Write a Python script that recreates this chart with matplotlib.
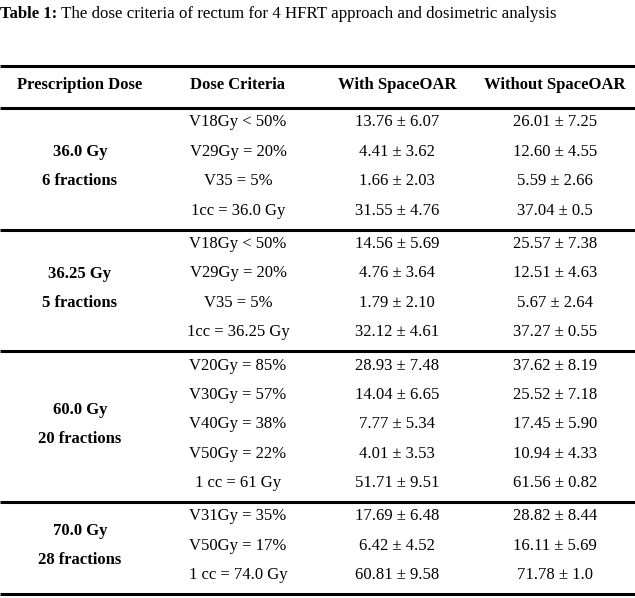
import matplotlib
matplotlib.use("Agg")
import matplotlib.pyplot as plt

# Table contents
headers = ["Prescription Dose", "Dose Criteria", "With SpaceOAR", "Without SpaceOAR"]
doses = ["36.0 Gy", "36.25 Gy", "60.0 Gy", "70.0 Gy"]
fractions = ["6 fractions", "5 fractions", "20 fractions", "28 fractions"]

criteria = [
    ["V18Gy < 50%", "V29Gy = 20%", "V35 = 5%", "1cc = 36.0 Gy"],
    ["V18Gy < 50%", "V29Gy = 20%", "V35 = 5%", "1cc = 36.25 Gy"],
    ["V20Gy = 85%", "V30Gy = 57%", "V40Gy = 38%", "V50Gy = 22%", "1 cc = 61 Gy"],
    ["V31Gy = 35%", "V50Gy = 17%", "1 cc = 74.0 Gy"],
]
with_mean = [
    ["13.76", "4.41", "1.66", "31.55"],
    ["14.56", "4.76", "1.79", "32.12"],
    ["28.93", "14.04", "7.77", "4.01", "51.71"],
    ["17.69", "6.42", "60.81"],
]
with_sd = [
    ["6.07", "3.62", "2.03", "4.76"],
    ["5.69", "3.64", "2.10", "4.61"],
    ["7.48", "6.65", "5.34", "3.53", "9.51"],
    ["6.48", "4.52", "9.58"],
]
without_mean = [
    ["26.01", "12.60", "5.59", "37.04"],
    ["25.57", "12.51", "5.67", "37.27"],
    ["37.62", "25.52", "17.45", "10.94", "61.56"],
    ["28.82", "16.11", "71.78"],
]
without_sd = [
    ["7.25", "4.55", "2.66", "0.5"],
    ["7.38", "4.63", "2.64", "0.55"],
    ["8.19", "7.18", "5.90", "4.33", "0.82"],
    ["8.44", "5.69", "1.0"],
]

W, H = 635, 598
fig = plt.figure(figsize=(W / 100, H / 100), dpi=100)
ax = fig.add_axes([0, 0, 1, 1])
ax.set_xlim(0, W)
ax.set_ylim(H, 0)
ax.axis("off")

font = "Liberation Serif"
fs = 12
col_x = [80, 238, 397, 555]
dy = 2  # nudge text down so glyphs sit like the reference

# title: bold label followed by normal text
t1 = ax.text(0, 12 + dy, "Table 1:", fontfamily=font, fontsize=12, fontweight="bold",
             va="center", ha="left")
ax.annotate("The dose criteria of rectum for 4 HFRT approach and dosimetric analysis",
            xy=(1, 0.5), xycoords=t1, xytext=(3, 0), textcoords="offset points",
            fontfamily=font, fontsize=12.2, va="center", ha="left")

lw = 2.2
ax.hlines(66, 0, W, color="black", lw=lw)
for x, h in zip(col_x, headers):
    ax.text(x, 83 + dy, h, fontfamily=font, fontsize=fs, fontweight="bold",
            ha="center", va="center")

row_h = 29.5
pad = 3.5
y = 108
ax.hlines(y, 0, W, color="black", lw=lw)
for g in range(len(doses)):
    n = len(criteria[g])
    first = y + 12.5 + dy
    for i in range(n):
        ry = first + i * (row_h - 0.1)
        ax.text(col_x[1], ry, criteria[g][i], fontfamily=font, fontsize=fs,
                ha="center", va="center")
        ax.text(col_x[2], ry, f"{with_mean[g][i]} \u00b1 {with_sd[g][i]}",
                fontfamily=font, fontsize=fs, ha="center", va="center")
        ax.text(col_x[3], ry, f"{without_mean[g][i]} \u00b1 {without_sd[g][i]}",
                fontfamily=font, fontsize=fs, ha="center", va="center")
    mid = first + (n - 1) * (row_h - 0.1) / 2
    ax.text(col_x[0], mid - 14.5, doses[g], fontfamily=font, fontsize=fs,
            fontweight="bold", ha="center", va="center")
    ax.text(col_x[0], mid + 14.5, fractions[g], fontfamily=font, fontsize=fs,
            fontweight="bold", ha="center", va="center")
    y = y + n * row_h + pad
    ax.hlines(y, 0, W, color="black", lw=lw)

fig.savefig("out.png", dpi=100)
